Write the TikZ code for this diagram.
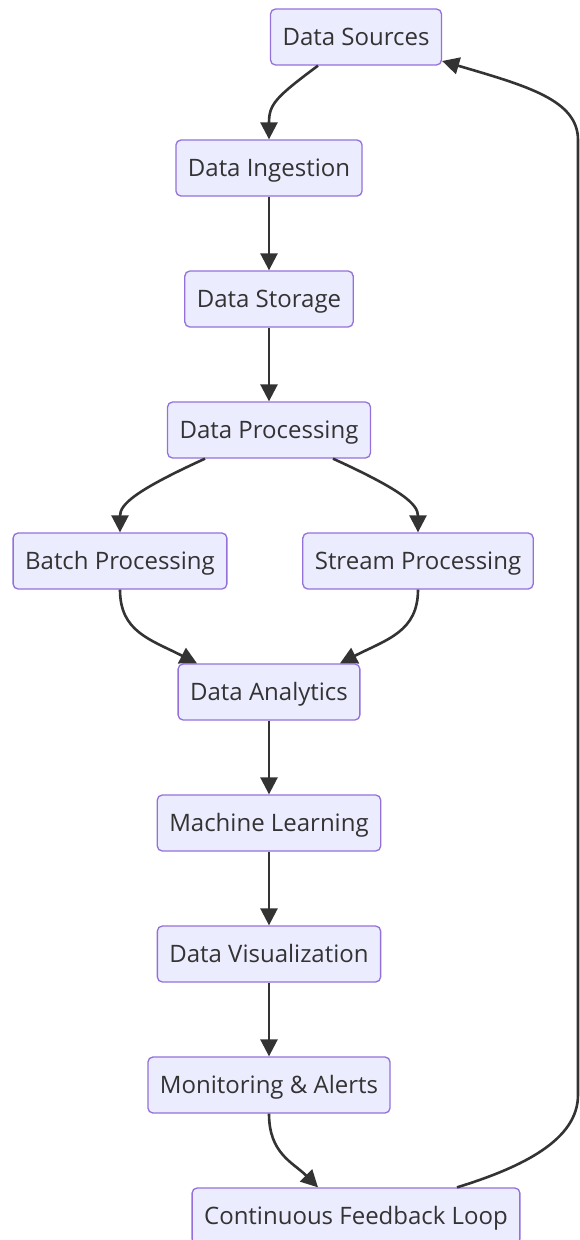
\documentclass[tikz,border=0pt]{standalone}
\usepackage{fontspec}
\setmainfont{Open Sans}
\usetikzlibrary{arrows.meta, positioning}

\definecolor{boxfill}{HTML}{ECECFF}
\definecolor{boxline}{HTML}{9370DB}
\definecolor{inkgray}{HTML}{333333}

\begin{document}
\begin{tikzpicture}[
    x=1pt, y=-1pt, % one unit per pixel of the reference, y pointing down
    >={Triangle[length=17pt, width=17pt]}, % Default arrow tip
    stagebox/.style={draw=boxline, fill=boxfill, line width=1.3pt, rounded corners=5pt,
        minimum height=56pt, inner xsep=12pt, text=inkgray,
        font=\fontsize{24}{28}\selectfont, text height=20pt, text depth=4pt}, % Style for the stages
    flow/.style={->, draw=inkgray, line width=2.6pt} % Style for the connectors
]

    % Canvas
    \useasboundingbox (0,0) rectangle (579,1240);

    % --- Stages ---
    \node[stagebox] (src) at (356,37) {Data Sources};
    \node[stagebox] (ingest) at (269,168) {Data Ingestion};
    \node[stagebox] (store) at (269,299) {Data Storage};
    \node[stagebox] (proc) at (269,430) {Data Processing};
    \node[stagebox] (batch) at (120,561) {Batch Processing};
    \node[stagebox] (stream) at (418,561) {Stream Processing};
    \node[stagebox] (analytics) at (269,692) {Data Analytics};
    \node[stagebox] (ml) at (269,823) {Machine Learning};
    \node[stagebox] (vis) at (269,954) {Data Visualization};
    \node[stagebox] (monitor) at (269,1085) {Monitoring \& Alerts};
    \node[stagebox] (feedback) at (356,1216) {Continuous Feedback Loop};

    % --- Main pipeline ---
    \draw[flow] ([xshift=-38pt]src.south) .. controls +(-43,32) and +(0,-35) .. (ingest.north);
    \draw[flow] (ingest) -- (store);
    \draw[flow] (store) -- (proc);

    % Split into batch and stream
    \draw[flow] ([xshift=-64pt]proc.south) .. controls +(-70,32) and +(0,-28) .. (batch.north);
    \draw[flow] ([xshift=64pt]proc.south) .. controls +(70,32) and +(0,-28) .. (stream.north);

    % Merge into analytics
    \draw[flow] (batch.south) .. controls +(0,42) and +(-47,-24) .. ([xshift=-72pt]analytics.north);
    \draw[flow] (stream.south) .. controls +(0,42) and +(47,-24) .. ([xshift=71pt]analytics.north);

    \draw[flow] (analytics) -- (ml);
    \draw[flow] (ml) -- (vis);
    \draw[flow] (vis) -- (monitor);
    \draw[flow] (monitor.south) .. controls +(0,40) and +(-25,-25) .. ([xshift=-38pt]feedback.north);

    % --- Feedback back to the sources ---
    \coordinate (loopbot) at (578,1095);
    \coordinate (looptop) at (578,140);
    \draw[flow] ([xshift=101pt]feedback.north) .. controls +(65,-20) and +(0,45) .. (loopbot)
        -- (looptop) .. controls +(0,-40) and +(85,25) .. ([yshift=-24pt]src.east);

\end{tikzpicture}
\end{document}
